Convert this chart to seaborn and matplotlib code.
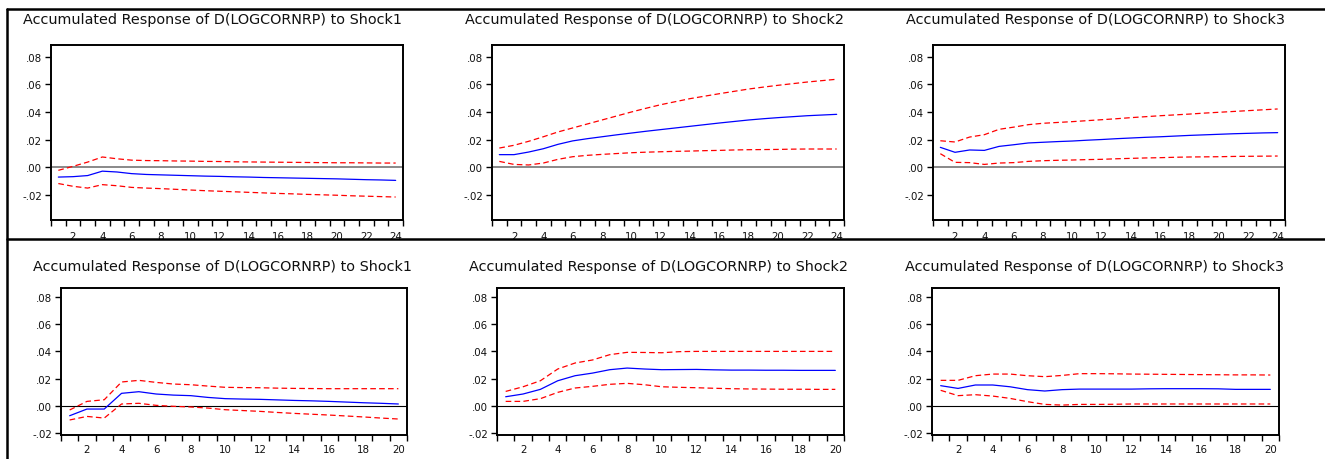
import numpy as np
import pandas as pd
import matplotlib
matplotlib.use("Agg")
import matplotlib.pyplot as plt
import seaborn as sns
from matplotlib.lines import Line2D

# ---------------- data ----------------
periods_top = list(range(1, 25))
periods_bottom = list(range(1, 21))

title_shock1 = "Accumulated Response of D(LOGCORNRP) to Shock1"
title_shock2 = "Accumulated Response of D(LOGCORNRP) to Shock2"
title_shock3 = "Accumulated Response of D(LOGCORNRP) to Shock3"

ytick_values = [-0.02, 0.0, 0.02, 0.04, 0.06, 0.08]
ytick_labels = ["-.02", ".00", ".02", ".04", ".06", ".08"]

# top row (24 periods)
t1_resp = [-0.0073, -0.0070, -0.0062, -0.0030, -0.0036, -0.0048, -0.0054, -0.0057, -0.0060, -0.0063,
           -0.0066, -0.0068, -0.0071, -0.0073, -0.0076, -0.0078, -0.0080, -0.0082, -0.0084, -0.0086,
           -0.0089, -0.0092, -0.0094, -0.0097]
t1_upper = [-0.0024, 0.0005, 0.0036, 0.0073, 0.0060, 0.0050, 0.0047, 0.0046, 0.0044, 0.0043,
            0.0041, 0.0040, 0.0038, 0.0037, 0.0036, 0.0035, 0.0034, 0.0033, 0.0032, 0.0031,
            0.0031, 0.0030, 0.0029, 0.0029]
t1_lower = [-0.0120, -0.0140, -0.0153, -0.0128, -0.0136, -0.0148, -0.0153, -0.0157, -0.0162, -0.0167,
            -0.0172, -0.0176, -0.0180, -0.0184, -0.0188, -0.0192, -0.0195, -0.0199, -0.0202, -0.0205,
            -0.0209, -0.0212, -0.0215, -0.0218]

t2_resp = [0.0090, 0.0090, 0.0109, 0.0133, 0.0165, 0.0190, 0.0206, 0.0220, 0.0234, 0.0247,
           0.0260, 0.0272, 0.0284, 0.0296, 0.0308, 0.0320, 0.0331, 0.0342, 0.0351, 0.0359,
           0.0366, 0.0373, 0.0378, 0.0383]
t2_upper = [0.0138, 0.0158, 0.0187, 0.0220, 0.0255, 0.0284, 0.0313, 0.0342, 0.0371, 0.0400,
            0.0427, 0.0453, 0.0475, 0.0497, 0.0515, 0.0533, 0.0550, 0.0567, 0.0581, 0.0594,
            0.0606, 0.0618, 0.0628, 0.0638]
t2_lower = [0.0041, 0.0019, 0.0015, 0.0029, 0.0056, 0.0075, 0.0085, 0.0092, 0.0098, 0.0104,
            0.0108, 0.0111, 0.0114, 0.0116, 0.0119, 0.0121, 0.0124, 0.0126, 0.0127, 0.0128,
            0.0130, 0.0131, 0.0131, 0.0131]

t3_resp = [0.0143, 0.0107, 0.0124, 0.0121, 0.0150, 0.0162, 0.0175, 0.0180, 0.0185, 0.0189,
           0.0195, 0.0200, 0.0206, 0.0211, 0.0216, 0.0220, 0.0225, 0.0230, 0.0234, 0.0238,
           0.0242, 0.0245, 0.0248, 0.0250]
t3_upper = [0.0191, 0.0182, 0.0218, 0.0235, 0.0274, 0.0290, 0.0308, 0.0318, 0.0324, 0.0330,
            0.0337, 0.0344, 0.0351, 0.0359, 0.0366, 0.0373, 0.0379, 0.0385, 0.0392, 0.0398,
            0.0404, 0.0410, 0.0416, 0.0422]
t3_lower = [0.0097, 0.0034, 0.0032, 0.0019, 0.0029, 0.0032, 0.0041, 0.0046, 0.0049, 0.0051,
            0.0054, 0.0056, 0.0060, 0.0063, 0.0066, 0.0068, 0.0071, 0.0073, 0.0074, 0.0075,
            0.0077, 0.0078, 0.0079, 0.0080]

# bottom row (20 periods)
b1_resp = [-0.0071, -0.0022, -0.0022, 0.0093, 0.0105, 0.0088, 0.0080, 0.0076, 0.0063, 0.0054,
           0.0051, 0.0049, 0.0045, 0.0041, 0.0038, 0.0034, 0.0029, 0.0024, 0.0020, 0.0015]
b1_upper = [-0.0029, 0.0034, 0.0046, 0.0176, 0.0188, 0.0173, 0.0161, 0.0156, 0.0146, 0.0137,
            0.0135, 0.0134, 0.0131, 0.0129, 0.0128, 0.0127, 0.0127, 0.0127, 0.0127, 0.0127]
b1_lower = [-0.0102, -0.0076, -0.0088, 0.0015, 0.0020, 0.0005, -0.0002, -0.0007, -0.0015, -0.0027,
            -0.0033, -0.0039, -0.0047, -0.0054, -0.0060, -0.0066, -0.0073, -0.0080, -0.0088, -0.0095]

b2_resp = [0.0068, 0.0088, 0.0122, 0.0185, 0.0222, 0.0241, 0.0266, 0.0278, 0.0271, 0.0266,
           0.0267, 0.0268, 0.0265, 0.0263, 0.0263, 0.0262, 0.0262, 0.0261, 0.0261, 0.0261]
b2_upper = [0.0107, 0.0141, 0.0185, 0.0271, 0.0315, 0.0337, 0.0376, 0.0393, 0.0392, 0.0390,
            0.0398, 0.0400, 0.0400, 0.0400, 0.0400, 0.0400, 0.0400, 0.0400, 0.0400, 0.0400]
b2_lower = [0.0034, 0.0034, 0.0054, 0.0100, 0.0132, 0.0144, 0.0159, 0.0166, 0.0156, 0.0141,
            0.0137, 0.0134, 0.0130, 0.0127, 0.0125, 0.0124, 0.0123, 0.0123, 0.0122, 0.0122]

b3_resp = [0.0149, 0.0129, 0.0154, 0.0154, 0.0141, 0.0120, 0.0110, 0.0120, 0.0124, 0.0124,
           0.0124, 0.0124, 0.0126, 0.0127, 0.0127, 0.0127, 0.0126, 0.0122, 0.0122, 0.0122]
b3_upper = [0.0188, 0.0188, 0.0222, 0.0234, 0.0234, 0.0222, 0.0215, 0.0224, 0.0237, 0.0237,
            0.0236, 0.0234, 0.0233, 0.0232, 0.0231, 0.0230, 0.0229, 0.0228, 0.0228, 0.0227]
b3_lower = [0.0115, 0.0076, 0.0083, 0.0073, 0.0056, 0.0032, 0.0012, 0.0007, 0.0012, 0.0012,
            0.0013, 0.0015, 0.0015, 0.0015, 0.0015, 0.0015, 0.0015, 0.0015, 0.0015, 0.0015]

# ---------------- style ----------------
sns.set_theme(style="ticks")
plt.rcParams["font.family"] = ["DejaVu Sans"]

W, H = 1325, 460
fig = plt.figure(figsize=(W / 100, H / 100), dpi=100)
fig.patch.set_facecolor("white")

BLUE = "#0000FF"
RED = "#FF0000"


def px_rect(x0, x1, ytop, ybot):
    return [x0 / W, 1 - ybot / H, (x1 - x0) / W, (ybot - ytop) / H]


panels = [
    # rect, periods, resp, upper, lower, ylim, zero color, zero lw, title, title px, xlabel pad
    (px_rect(51, 403, 46, 221), periods_top, t1_resp, t1_upper, t1_lower, (-0.0385, 0.0887), "#808080", 1.3, title_shock1, (23, 20), 8.2),
    (px_rect(492, 844, 46, 221), periods_top, t2_resp, t2_upper, t2_lower, (-0.0385, 0.0887), "#808080", 1.3, title_shock2, (465, 20), 8.2),
    (px_rect(933, 1285, 46, 221), periods_top, t3_resp, t3_upper, t3_lower, (-0.0385, 0.0887), "#808080", 1.3, title_shock3, (906, 20), 8.2),
    (px_rect(61, 407, 289, 436), periods_bottom, b1_resp, b1_upper, b1_lower, (-0.0212, 0.0864), "black", 0.8, title_shock1, (33, 266.5), 6.2),
    (px_rect(497, 844, 289, 436), periods_bottom, b2_resp, b2_upper, b2_lower, (-0.0212, 0.0864), "black", 0.8, title_shock2, (469, 266.5), 6.2),
    (px_rect(932, 1279, 289, 436), periods_bottom, b3_resp, b3_upper, b3_lower, (-0.0212, 0.0864), "black", 0.8, title_shock3, (905, 266.5), 6.2),
]

for rect, periods, resp, upper, lower, ylim, zc, zlw, title, tpos, xpad in panels:
    ax = fig.add_axes(rect)
    df = pd.DataFrame({
        "period": periods * 3,
        "value": list(resp) + list(upper) + list(lower),
        "series": ["resp"] * len(periods) + ["upper"] * len(periods) + ["lower"] * len(periods),
    })
    ax.axhline(0, color=zc, lw=zlw, zorder=1)
    sns.lineplot(data=df[df.series == "resp"], x="period", y="value", ax=ax,
                 color=BLUE, lw=0.9, zorder=3)
    for s in ["upper", "lower"]:
        sns.lineplot(data=df[df.series == s], x="period", y="value", ax=ax,
                     color=RED, lw=0.9, dashes=False, zorder=2)
        ax.lines[-1].set_dashes((4.5, 2.6))
    n = len(periods)
    ax.set_xlim(0.5, n + 0.5)
    ax.set_ylim(*ylim)
    ax.set_xlabel("")
    ax.set_ylabel("")
    ax.set_yticks(ytick_values)
    ax.set_yticklabels(ytick_labels)
    ax.set_xticks(np.arange(0.5, n + 1, 1.0))
    ax.set_xticklabels([])
    evens = list(range(2, n + 1, 2))
    ax.set_xticks(evens, minor=True)
    ax.set_xticklabels([str(e) for e in evens], minor=True)
    ax.tick_params(axis="x", which="major", length=4.5, width=1.0, direction="out", color="black")
    ax.tick_params(axis="x", which="minor", length=0, pad=xpad, labelsize=7.4, labelcolor="#111111")
    ax.tick_params(axis="y", which="major", length=4.5, width=1.0, direction="out", color="black",
                   labelsize=7.4, labelcolor="#111111", pad=2)
    for sp in ax.spines.values():
        sp.set_visible(True)
        sp.set_color("black")
        sp.set_linewidth(1.4)
    ax.set_facecolor("white")
    fig.text(tpos[0] / W, 1 - tpos[1] / H, title, ha="left", va="center",
             fontsize=10.4, color="#111111")

# frame lines
for (x0, y0, x1, y1) in [(7, 10, 7, 460), (7, 10, 1325, 10), (7, 240, 1325, 240)]:
    fig.add_artist(Line2D([x0 / W, x1 / W], [1 - y0 / H, 1 - y1 / H],
                          transform=fig.transFigure, color="black", lw=1.8, zorder=10))

fig.savefig("out.png", dpi=100, facecolor="white")
